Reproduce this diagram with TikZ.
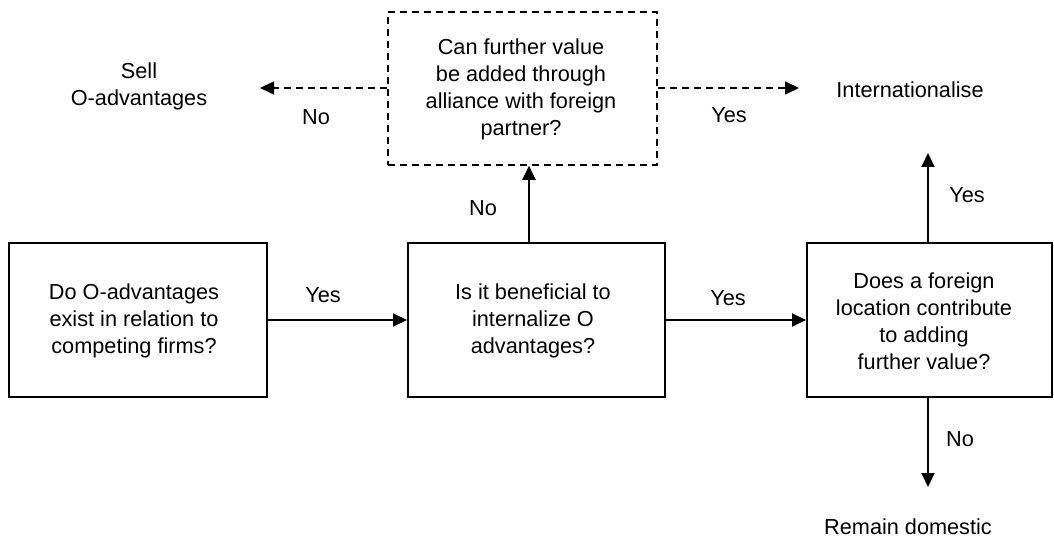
\documentclass[tikz,border=0pt]{standalone}
\usepackage{fontspec}
\setmainfont{Liberation Sans}
\usetikzlibrary{arrows.meta}
\begin{document}
\begin{tikzpicture}[x=1pt,y=-1pt,
  every node/.style={font=\fontsize{21.7}{27}\selectfont, inner sep=0pt, align=center},
  qbox/.style={draw, line width=2pt, minimum height=154pt},
  dbox/.style={draw, line width=1.6pt, dash pattern=on 7pt off 5pt, minimum height=153pt, minimum width=269pt},
  arr/.style={line width=2pt, -{Triangle[length=14pt,width=13pt]}},
  darr/.style={line width=1.6pt, dash pattern=on 7pt off 5pt, -{Triangle[length=14pt,width=13pt]}},
  lbl/.style={}
]
\useasboundingbox (0,0) rectangle (1054,540);
% boxes
\node[qbox, minimum width=258pt] (b1) at (138,320) {};
\node (t1) at (134,321) {Do O-advantages\\exist in relation to\\competing firms?};
\node[qbox, minimum width=257pt] (b2) at (536.5,320) {};
\node (t2) at (533,321) {Is it beneficial to\\internalize O\\advantages?};
\node[qbox, minimum width=245pt] (b3) at (929.5,320) {};
\node (t3) at (924,321) {Does a foreign\\location contribute\\to adding\\further value?};
\node[dbox] (db) at (522.5,88.5) {};
\node (td) at (521,89) {Can further value\\be added through\\alliance with foreign\\partner?};
% outcome texts
\node (sell) at (139,86) {Sell\\O-advantages};
\node (intl) at (910,90) {Internationalise};
\node (dom) at (908,527) {Remain domestic};
% free ends
\coordinate (sellend) at (260,88);
\coordinate (intlend) at (799,88);
\coordinate (upx) at (529,0);
\coordinate (rx) at (928,0);
\coordinate (yesend) at (928,153);
\coordinate (noend) at (928,487);
% connectors
\draw[arr] (b1.east) -- (b2.west);
\draw[arr] (b2.east) -- (b3.west);
\draw[arr] (b2.north -| upx) -- (db.south -| upx);
\draw[darr] (db.west |- sellend) -- (sellend);
\draw[darr] (db.east |- intlend) -- (intlend);
\draw[arr] (b3.north -| rx) -- (yesend);
\draw[arr] (b3.south -| rx) -- (noend);
% labels
\node[lbl] (l1) at (323,295) {Yes};
\node[lbl] (l2) at (728,298) {Yes};
\node[lbl] (l3) at (483,208) {No};
\node[lbl] (l4) at (316,117) {No};
\node[lbl] (l5) at (729,115) {Yes};
\node[lbl] (l6) at (967,195) {Yes};
\node[lbl] (l7) at (960,439) {No};
\end{tikzpicture}
\end{document}
